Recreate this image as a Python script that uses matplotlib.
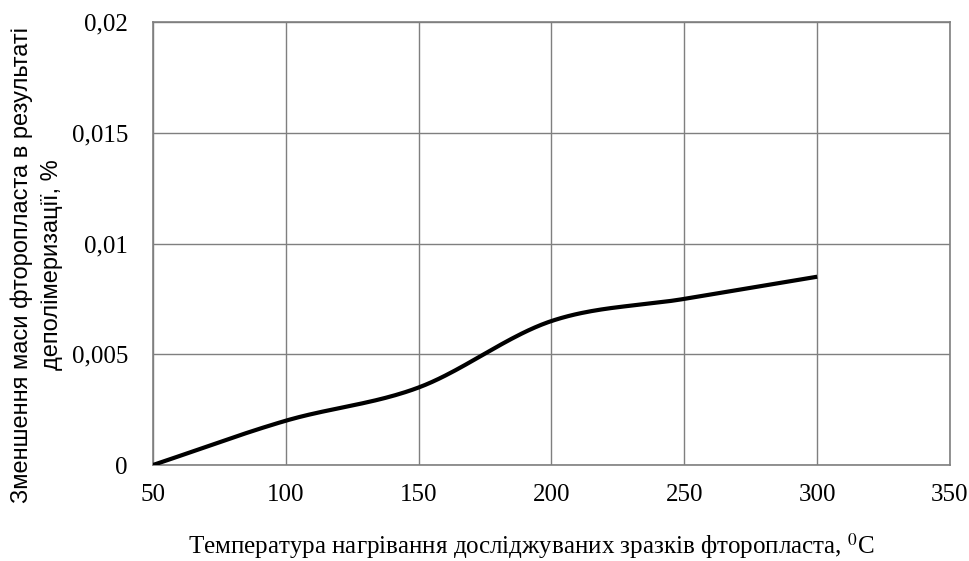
import numpy as np
import matplotlib
matplotlib.use("Agg")
import matplotlib.pyplot as plt
from matplotlib.ticker import FuncFormatter

temperature = [50, 100, 150, 200, 250, 300]
mass_loss = [0.0, 0.002, 0.0035, 0.0065, 0.0075, 0.0085]
x_ticks = [50, 100, 150, 200, 250, 300, 350]
y_ticks = [0, 0.005, 0.01, 0.015, 0.02]
x_label = "Температура нагрівання досліджуваних зразків фторопласта, $^{0}$C"
y_label = "Зменшення маси фторопласта в результаті\nдеполімеризації, %"


def smooth(xs, ys, n=40):
    xs = np.asarray(xs, float)
    ys = np.asarray(ys, float)
    m = np.zeros_like(ys)
    m[1:-1] = (ys[2:] - ys[:-2]) / (xs[2:] - xs[:-2])
    m[0] = (ys[1] - ys[0]) / (xs[1] - xs[0])
    m[-1] = (ys[-1] - ys[-2]) / (xs[-1] - xs[-2])
    ox, oy = [], []
    for i in range(len(xs) - 1):
        h = xs[i + 1] - xs[i]
        t = np.linspace(0, 1, n, endpoint=(i == len(xs) - 2))
        h00 = 2 * t**3 - 3 * t**2 + 1
        h10 = t**3 - 2 * t**2 + t
        h01 = -2 * t**3 + 3 * t**2
        h11 = t**3 - t**2
        ox.append(xs[i] + t * h)
        oy.append(h00 * ys[i] + h10 * h * m[i] + h01 * ys[i + 1] + h11 * h * m[i + 1])
    return np.concatenate(ox), np.concatenate(oy)


plt.rcParams['mathtext.fontset'] = 'stix'
serif = ['Liberation Serif', 'DejaVu Serif']

fig = plt.figure(figsize=(9.7, 5.61), dpi=100)
ax = fig.add_axes([153 / 970, 1 - 465 / 561, (950 - 153) / 970, (465 - 22) / 561])

sx, sy = smooth(temperature, mass_loss)
ax.plot(sx, sy, color='black', lw=3, solid_capstyle='butt', zorder=3)

ax.set_xlim(50, 350)
ax.set_ylim(0, 0.02)
ax.set_xticks(x_ticks)
ax.set_yticks(y_ticks)
ax.yaxis.set_major_formatter(FuncFormatter(lambda v, p: ('%g' % v).replace('.', ',')))
ax.grid(True, color='#7f7f7f', lw=1)
ax.set_axisbelow(True)
for s in ax.spines.values():
    s.set_color('#7f7f7f')
    s.set_linewidth(1.2)
ax.tick_params(length=0, labelsize=18)
ax.tick_params(axis='x', pad=14)
ax.tick_params(axis='y', pad=18)
for lab in ax.get_xticklabels() + ax.get_yticklabels():
    lab.set_family(serif)

fig.text(531 / 970, 1 - 546 / 561, x_label, family=serif, fontsize=18,
         ha='center', va='center')
fig.text(37 / 970, 1 - 265 / 561, y_label,
         family=['Liberation Sans Narrow', 'DejaVu Sans Condensed', 'Liberation Sans'],
         fontsize=17, linespacing=1.45, rotation=90, ha='center', va='center',
         multialignment='center')

fig.savefig('out.png', dpi=100)
